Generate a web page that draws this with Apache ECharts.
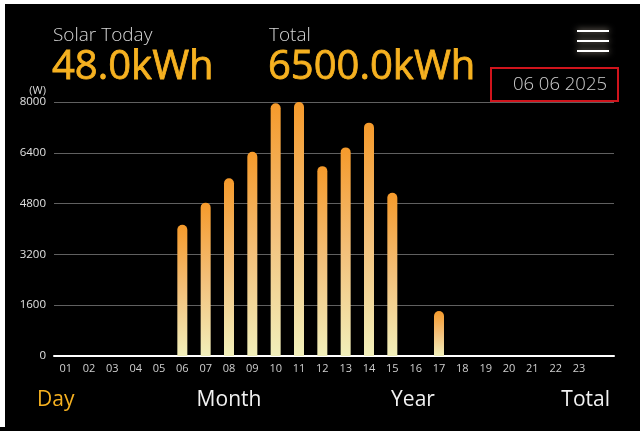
<!DOCTYPE html>
<html>
<head>
<meta charset="utf-8">
<script src="https://cdn.jsdelivr.net/npm/echarts@6/dist/echarts.min.js"></script>
<style>
  html, body { margin: 0; padding: 0; background: #000; }
  #chart { width: 640px; height: 431px; }
</style>
</head>
<body>
<div id="chart"></div>
<script>
// Hourly solar output for the selected day
const hours = ['01','02','03','04','05','06','07','08','09','10','11','12',
               '13','14','15','16','17','18','19','20','21','22','23','24'];
const powerW = [0, 0, 0, 0, 0, 4130, 4830, 5600, 6430, 7960, 8000, 5980,
                6570, 7350, 5140, 0, 1420, 0, 0, 0, 0, 0, 0, 0];
const yTicks = [0, 1600, 3200, 4800, 6400, 8000];

const todayEnergy = '48.0kWh';
const totalEnergy = '6500.0kWh';
const dateText = '06 06 2025';
const tabs = ['Day', 'Month', 'Year', 'Total'];

const FONT = '"Open Sans", "Noto Sans", sans-serif';
const ORANGE = '#f6b120';

const chart = echarts.init(document.getElementById('chart'), null, { renderer: 'canvas' });

// big energy figures: regular weight with a hairline outline for a touch more body
const bigFigure = (x, text) => ({
  type: 'text', x: x, y: 68,
  style: { text: text, fill: ORANGE, stroke: ORANGE, lineWidth: 0.8, font: '40px ' + FONT, verticalAlign: 'middle' }
});

chart.setOption({
  backgroundColor: '#000',
  animation: false,
  grid: { left: 54, right: 26, top: 102, bottom: 75 },
  xAxis: {
    type: 'category',
    data: hours,
    axisLine: { show: true, lineStyle: { color: '#fff', width: 2 } },
    axisTick: { show: false },
    axisLabel: {
      color: '#cfcfcf',
      fontSize: 11,
      fontFamily: FONT,
      margin: 7,
      interval: 0,
      formatter: (v) => (v === '24' ? '' : v)
    },
    splitLine: { show: false }
  },
  yAxis: {
    type: 'value',
    min: yTicks[0],
    max: yTicks[yTicks.length - 1],
    interval: yTicks[1] - yTicks[0],
    name: '(W)',
    nameLocation: 'end',
    nameGap: 3,
    nameTextStyle: {
      color: '#dcdcdc',
      fontSize: 11,
      fontFamily: FONT,
      align: 'right',
      padding: [0, 8, 0, 0]
    },
    axisLine: { show: false },
    axisTick: { show: false },
    axisLabel: {
      color: '#e0e0e0',
      fontSize: 11.5,
      fontFamily: FONT,
      margin: 8,
      formatter: (v) => String(v)
    },
    splitLine: { lineStyle: { color: '#606060', width: 1 } }
  },
  series: [{
    type: 'bar',
    data: powerW,
    barWidth: 10,
    itemStyle: {
      borderRadius: [5, 5, 0, 0],
      color: new echarts.graphic.LinearGradient(0, 0, 0, 1, [
        { offset: 0, color: '#f59a2b' },
        { offset: 0.5, color: '#f3c07a' },
        { offset: 1, color: '#f1efba' }
      ])
    }
  }],
  graphic: [
    // frame edges
    { type: 'rect', left: 0, top: 0, shape: { width: 640, height: 4 }, style: { fill: '#fff' }, silent: true },
    { type: 'rect', left: 0, top: 0, shape: { width: 5, height: 427 }, style: { fill: '#fff' }, silent: true },

    // header figures
    { type: 'text', x: 53, y: 36, style: { text: 'Solar Today', fill: '#d6d6d6', font: '300 19px ' + FONT, verticalAlign: 'middle' } },
    bigFigure(52, todayEnergy),
    { type: 'text', x: 269, y: 36, style: { text: 'Total', fill: '#d6d6d6', font: '300 19px ' + FONT, verticalAlign: 'middle' } },
    bigFigure(268, totalEnergy),

    // date selector
    { type: 'rect', shape: { x: 491, y: 68, width: 127, height: 33 }, style: { fill: 'none', stroke: '#d0141c', lineWidth: 2 } },
    { type: 'text', x: 607, y: 85, style: { text: dateText, fill: '#cfcfcf', font: '300 18.5px ' + FONT, align: 'right', verticalAlign: 'middle' } },

    // menu icon
    { type: 'group', children: [31, 41, 51].map(y => ({
      type: 'line',
      shape: { x1: 577, y1: y, x2: 609, y2: y },
      style: { stroke: '#ffffff', lineWidth: 2, shadowBlur: 6, shadowColor: 'rgba(255,240,220,0.8)' }
    })) },

    // period tabs
    { type: 'text', x: 37, y: 400, style: { text: tabs[0], fill: ORANGE, font: '21px ' + FONT, verticalAlign: 'middle' } },
    { type: 'text', x: 229, y: 400, style: { text: tabs[1], fill: '#f2f2f2', font: '21px ' + FONT, align: 'center', verticalAlign: 'middle' } },
    { type: 'text', x: 413, y: 400, style: { text: tabs[2], fill: '#f2f2f2', font: '21px ' + FONT, align: 'center', verticalAlign: 'middle' } },
    { type: 'text', x: 610, y: 400, style: { text: tabs[3], fill: '#f2f2f2', font: '21px ' + FONT, align: 'right', verticalAlign: 'middle' } }
  ]
});
</script>
</body>
</html>
